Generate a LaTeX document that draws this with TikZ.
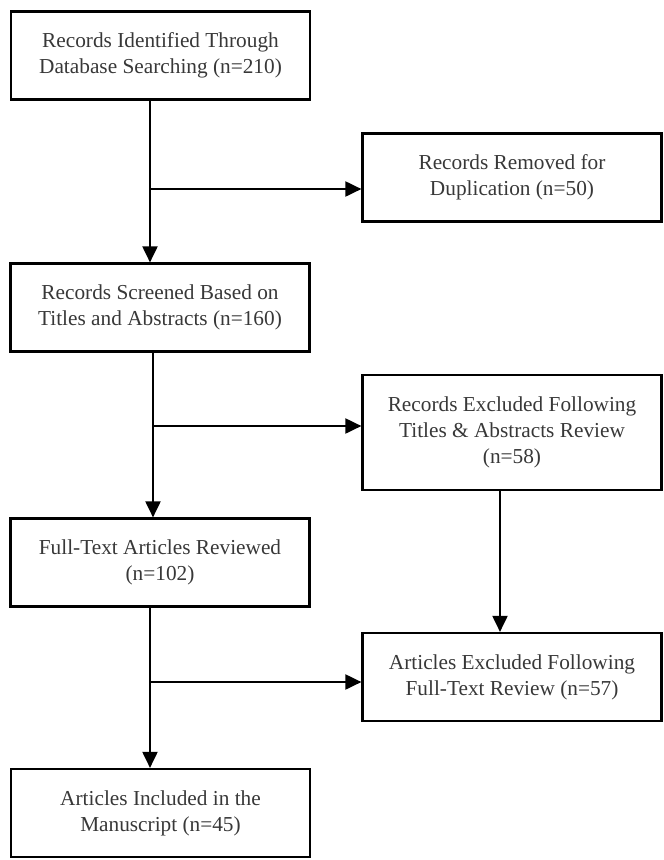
\documentclass[tikz,border=0pt]{standalone}
\usepackage{fontspec}
\setmainfont{Liberation Serif}
\usetikzlibrary{arrows.meta}
\begin{document}
\begin{tikzpicture}[x=1pt,y=-1pt,
  box/.style={draw=black, line width=2.2pt, rectangle, minimum width=299pt, minimum height=88pt,
    align=center, inner sep=0pt, text=black!78, font=\fontsize{21.3}{26}\selectfont},
  arr/.style={line width=2pt, -{Triangle[length=16pt,width=15pt]}}]
\useasboundingbox (0,0) rectangle (664,860);
\node[box] (b1) at (160.5,55.5) {Records Identified Through\\Database Searching (n=210)};
\node[box] (b2) at (512,177.5) {Records Removed for\\Duplication (n=50)};
\node[box] (b3) at (160,307.5) {Records Screened Based on\\Titles and Abstracts (n=160)};
\node[box, minimum height=115pt] (b4) at (512,432.5) {Records Excluded Following\\Titles \& Abstracts Review\\(n=58)};
\node[box] (b5) at (160,562.5) {Full-Text Articles Reviewed\\(n=102)};
\node[box] (b6) at (512,677) {Articles Excluded Following\\Full-Text Review (n=57)};
\node[box] (b7) at (160.5,813) {Articles Included in the\\Manuscript (n=45)};
\coordinate (j1) at (150,189);
\coordinate (j2) at (153,426);
\coordinate (j3) at (150,682);
\coordinate (c4) at (500,0);
\draw[arr] (b1.south -| j1) -- (b3.north -| j1);
\draw[arr] (j1) -- (j1 -| b2.west);
\draw[arr] (b3.south -| j2) -- (b5.north -| j2);
\draw[arr] (j2) -- (j2 -| b4.west);
\draw[arr] (b4.south -| c4) -- (b6.north -| c4);
\draw[arr] (b5.south -| j3) -- (b7.north -| j3);
\draw[arr] (j3) -- (j3 -| b6.west);
\end{tikzpicture}
\end{document}
